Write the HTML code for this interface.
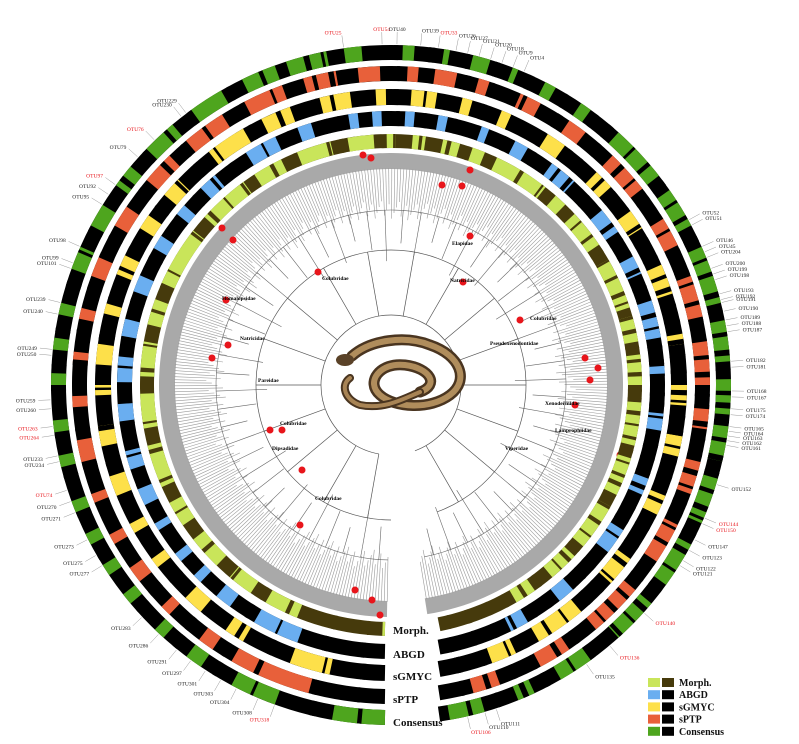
<!DOCTYPE html>
<html><head><meta charset="utf-8"><style>
html,body{margin:0;padding:0;background:#fff;}
svg{display:block;font-family:"Liberation Serif",serif;}
</style></head><body>
<svg id="fig" width="799" height="744" viewBox="0 0 799 744" xmlns="http://www.w3.org/2000/svg">
<g id="tree"></g>
<g id="rings"></g>
<g id="labels"></g>
<g id="snake">
  <path d="M352 356 C370 340 405 335 430 345 C460 355 470 380 450 395 C430 410 395 408 380 395 C365 382 380 362 405 365 C430 368 440 385 420 392" fill="none" stroke="#4a3520" stroke-width="11" stroke-linecap="round"/>
  <path d="M352 356 C370 340 405 335 430 345 C460 355 470 380 450 395 C430 410 395 408 380 395 C365 382 380 362 405 365 C430 368 440 385 420 392" fill="none" stroke="#b08d5c" stroke-width="6" stroke-linecap="round"/>
  <path d="M420 392 C405 398 385 410 360 405 C345 400 340 385 350 378" fill="none" stroke="#4a3520" stroke-width="8" stroke-linecap="round"/>
  <path d="M420 392 C405 398 385 410 360 405 C345 400 340 385 350 378" fill="none" stroke="#a88455" stroke-width="4" stroke-linecap="round"/>
  <ellipse cx="345" cy="360" rx="9" ry="6" fill="#5a4228"/>
</g>
<g id="gaplabels" font-weight="bold" font-size="11" fill="#111">
  <text x="393" y="634">Morph.</text>
  <text x="393" y="658">ABGD</text>
  <text x="393" y="680">sGMYC</text>
  <text x="393" y="703">sPTP</text>
  <text x="393" y="726">Consensus</text>
</g>
<g id="legend" font-weight="bold" font-size="10" fill="#111"></g>
</svg>
<script>
const NS="http://www.w3.org/2000/svg";
const CX=391, CY=385;
const ringNames=["Morph.","ABGD","sGMYC","sPTP","Consensus"];
const ringColors=["#c9e55a","#6aaef0","#fde04a","#e8603a","#4ea51e"];
const ringBase=["#463a0c","#000000","#000000","#000000","#000000"];
const morphLight=[[-179,-178],[-158,-150],[-146,-140],[-136,-128],[-124,-118],[-114,-104],[-100,-92],[-88,-80],[-76,-70],[-66,-52],[-48,-36],[-33,-26],[-22,-14],[-10,-4],[-1,1],[5,8],[12,16],[19,22],[25,38],[41,44],[47,56],[60,72],[74,80],[83,90],[94,104],[107,116],[119,130],[133,140],[145,150]];
const abgdColor=[[-160,-150],[-144,-140],[-136,-134],[-130,-128],[-122,-120],[-116,-112],[-108,-104],[-98,-94],[-90,-84],[-80,-76],[-70,-66],[-60,-57],[-52,-49],[-44,-40],[-32,-25],[-20,-17],[-9,-7],[-4,-2],[3,5],[10,12],[19,21],[27,30],[36,42],[50,56],[62,66],[72,80],[86,88],[96,100],[110,114],[122,128],[138,142],[150,154]];
const sgmycColor=[[-168,-160],[-150,-146],[-140,-136],[-128,-126],[-120,-118],[-112,-108],[-102,-98],[-92,-90],[-86,-82],[-76,-74],[-68,-64],[-58,-55],[-50,-46],[-38,-30],[-26,-20],[-14,-8],[-3,-1],[4,9],[14,16],[22,24],[32,36],[44,48],[54,58],[66,72],[80,82],[90,94],[100,104],[112,116],[126,132],[140,150],[155,160]];
const sptpColor=[[-165,-150],[-146,-143],[-136,-134],[-128,-125],[-120,-118],[-112,-110],[-104,-100],[-94,-92],[-86,-84],[-78,-76],[-70,-66],[-60,-56],[-50,-44],[-40,-32],[-28,-20],[-16,-10],[-6,-2],[3,5],[8,12],[16,18],[24,28],[34,38],[44,52],[58,64],[70,78],[82,90],[94,98],[104,110],[116,124],[130,140],[146,152],[160,165]];
const consColor=[[-179,-170],[-160,-152],[-146,-143],[-138,-136],[-130,-128],[-124,-122],[-118,-116],[-112,-110],[-104,-102],[-98,-96],[-90,-88],[-84,-82],[-78,-76],[-70,-66],[-62,-58],[-54,-50],[-46,-40],[-36,-30],[-26,-20],[-18,-11],[-8,-5],[2,4],[9,10],[14,17],[21,22],[27,29],[34,36],[42,52],[55,62],[66,76],[79,86],[89,95],[97,103],[106,114],[118,126],[130,138],[144,150],[155,158],[164,170]];
// thin dark stripes (degrees) overlaid on every ring
const thinStripes=[-175,-167,-156,-149,-141,-132,-121,-113,-106,-99,-91,-87,-81,-73,-67,-63,-53,-47,-42,-37,-29,-23,-15,-12,0.5,6.5,13,18,24,31,37,40,45.5,49,53,57,60,64,68,70.5,74,77,81,84,87,91,93,96,99,102,105,108,111,113,116,119,123,127,131,134,137,143,147,152,156,161,166];
const ringIntervals=[morphLight,abgdColor,sgmycColor,sptpColor,consColor];
const ringInner=[237,259,280,304,325];
const ringOuter=[251,274,296,319,340];

function pt(r,a){const t=a*Math.PI/180;return [CX+r*Math.sin(t),CY-r*Math.cos(t)];}
function sector(r1,r2,a1,a2){
  const p1=pt(r2,a1),p2=pt(r2,a2),p3=pt(r1,a2),p4=pt(r1,a1);const big=(a2-a1)>180?1:0;
  return `M${p1[0]},${p1[1]} A${r2},${r2} 0 ${big} 1 ${p2[0]},${p2[1]} L${p3[0]},${p3[1]} A${r1},${r1} 0 ${big} 0 ${p4[0]},${p4[1]} Z`;
}
const rings=document.getElementById('rings');
for(let i=0;i<5;i++){
  const r1=ringInner[i],r2=ringOuter[i];
  const rm=(r1+r2)/2;
  const aStart=-180+Math.asin(6/rm)*180/Math.PI;
  const aEnd=180-Math.asin(48/rm)*180/Math.PI;
  const g=document.createElementNS(NS,'g');
  
  
  const base=document.createElementNS(NS,'path');
  base.setAttribute('d',sector(r1,r2,aStart,aEnd));base.setAttribute('fill',ringBase[i]);
  
  
  g.appendChild(base);
  ringIntervals[i].forEach(iv=>{
    const a1=Math.max(iv[0],aStart),a2=Math.min(iv[1],aEnd);if(a2<=a1)return;
    const p=document.createElementNS(NS,'path');
    p.setAttribute('d',sector(r1,r2,a1,a2));p.setAttribute('fill',ringColors[i]);
    
    
    g.appendChild(p);
  });
  thinStripes.forEach((s,k)=>{
    const a=s+(i%2)*0.6;
    if(a<aStart||a>aEnd)return;
    const w=0.5+((k+i)%3)*0.25;
    const p=document.createElementNS(NS,'path');
    p.setAttribute('d',sector(r1,r2,a,a+w));p.setAttribute('fill',ringBase[i]);
    
    
    g.appendChild(p);
  });
  rings.appendChild(g);
}
const tree=document.getElementById('tree');
let td='';
td+=`<path d="${sector(216,232,-179,171)}" fill="#a9a9a9"/>`;
for(let a=-179;a<=171;a+=0.8){const p=pt(165+((a*7)%20+20)%20,a),q=pt(217,a);td+=`<line x1="${p[0].toFixed(1)}" y1="${p[1].toFixed(1)}" x2="${q[0].toFixed(1)}" y2="${q[1].toFixed(1)}" stroke="#9a9a9a" stroke-width="0.6"/>`;}
for(let a=-176;a<168;a+=6){const r=120+((a*13)%30+30)%30;const p=pt(r,a),q=pt(175,a);td+=`<line x1="${p[0]}" y1="${p[1]}" x2="${q[0]}" y2="${q[1]}" stroke="#666" stroke-width="0.6"/>`;const s=pt(175,a-3),e=pt(175,a+3);td+=`<path d="M${s[0]},${s[1]} A175,175 0 0 1 ${e[0]},${e[1]}" fill="none" stroke="#666" stroke-width="0.6"/>`;}
for(let a=-170;a<165;a+=20){const p=pt(70,a),q=pt(135,a);td+=`<line x1="${p[0]}" y1="${p[1]}" x2="${q[0]}" y2="${q[1]}" stroke="#555" stroke-width="0.7"/>`;const s=pt(135,a-10),e=pt(135,a+10);td+=`<path d="M${s[0]},${s[1]} A135,135 0 0 1 ${e[0]},${e[1]}" fill="none" stroke="#555" stroke-width="0.7"/>`;}
const s0=pt(70,-170),e0=pt(70,160);td+=`<path d="M${s0[0]},${s0[1]} A70,70 0 1 1 ${e0[0]},${e0[1]}" fill="none" stroke="#555" stroke-width="0.7"/>`;
tree.innerHTML=td;
const dots=[[363,155],[371,158],[470,170],[442,185],[462,186],[470,236],[463,282],[318,272],[222,228],[233,240],[226,300],[228,345],[212,358],[270,430],[302,470],[282,430],[300,525],[355,590],[372,600],[380,615],[585,358],[598,368],[590,380],[575,405],[620,455],[520,320]];
dots.forEach(d=>{const c=document.createElementNS(NS,'circle');c.setAttribute('cx',d[0]);c.setAttribute('cy',d[1]);c.setAttribute('r',3.5);c.setAttribute('fill','#e8151b');


tree.appendChild(c);});
const fam=[["Colubridae",322,280],["Natricidae",450,282],["Elapidae",452,245],["Natricidae",240,340],["Pareidae",258,382],["Colubridae",280,425],["Dipsadidae",272,450],["Colubridae",315,500],["Xenodermidae",545,405],["Lamprophiidae",555,432],["Viperidae",505,450],["Colubridae",530,320],["Pseudoxenodontidae",490,345],["Homalopsidae",222,300]];
fam.forEach(f=>{const t=document.createElementNS(NS,'text');t.setAttribute('x',f[1]);t.setAttribute('y',f[2]);t.setAttribute('font-size','5.5');t.setAttribute('font-weight','bold');t.textContent=f[0];


tree.appendChild(t);});
const otuNames=["OTU25","OTU54","OTU40","OTU39","OTU33","OTU26","OTU27","OTU21","OTU20","OTU18","OTU9","OTU4","OTU52","OTU51","OTU46","OTU45","OTU204","OTU200","OTU199","OTU198","OTU193","OTU192","OTU191","OTU190","OTU189","OTU188","OTU187","OTU182","OTU181","OTU168","OTU167","OTU175","OTU174","OTU165","OTU164","OTU163","OTU162","OTU161","OTU152","OTU144","OTU150","OTU147","OTU123","OTU122","OTU121","OTU140","OTU136","OTU135","OTU111","OTU110","OTU106","OTU318","OTU308","OTU304","OTU303","OTU301","OTU297","OTU291","OTU286","OTU283","OTU277","OTU275","OTU273","OTU271","OTU270","OTU74","OTU234","OTU233","OTU264","OTU263","OTU260","OTU259","OTU250","OTU249","OTU240","OTU239","OTU101","OTU99","OTU98","OTU95","OTU92","OTU97","OTU79","OTU76","OTU230","OTU229"];
const otuAngles=[-8,-1.5,1,5,8,11,13,15,17,19,21,23,61,62,66,67,68,70,71,72,74.5,75.5,76,77.5,79,80,81,86,87,91,92,94,95,97,97.8,98.6,99.4,100.2,107,113,114,117,119,121,122,132,140,145,162,164,167,-160,-157,-153,-150,-147,-144,-141,-137,-133,-122,-120,-117,-112,-110,-108,-103,-102,-98.5,-97,-94,-92.5,-85,-84,-78,-76,-70,-69,-66,-58,-56,-54,-48,-44,-38,-37];
const otuRed=["OTU25","OTU54","OTU33","OTU144","OTU150","OTU140","OTU136","OTU106","OTU318","OTU74","OTU264","OTU263","OTU97","OTU76"];
const labels=document.getElementById('labels');
otuNames.forEach((n,i)=>{
  const a=otuAngles[i];const p=pt(341,a),q=pt(353,a),t=pt(356,a);
  const l=document.createElementNS(NS,'line');l.setAttribute('x1',p[0]);l.setAttribute('y1',p[1]);l.setAttribute('x2',q[0]);l.setAttribute('y2',q[1]);l.setAttribute('stroke','#999');l.setAttribute('stroke-width','0.5');
  
  
  labels.appendChild(l);
  const tx=document.createElementNS(NS,'text');tx.setAttribute('x',t[0]);tx.setAttribute('y',t[1]+2);tx.setAttribute('font-size','5.5');
  tx.setAttribute('text-anchor',Math.sin(a*Math.PI/180)>=0.05?'start':(Math.sin(a*Math.PI/180)<=-0.05?'end':'middle'));
  tx.setAttribute('fill',otuRed.includes(n)?'#e8151b':'#222');tx.textContent=n;
  
  
  labels.appendChild(tx);
});
const leg=document.getElementById('legend');
const legLight=["#c9e55a","#6aaef0","#fde04a","#e8603a","#4ea51e"];
const legDark=["#463a0c","#000","#000","#000","#000"];
ringNames.forEach((n,i)=>{
  const y=678+i*12.2;
  const a=document.createElementNS(NS,'rect');a.setAttribute('x',648);a.setAttribute('y',y);a.setAttribute('width',12);a.setAttribute('height',9);a.setAttribute('fill',legLight[i]);
  
  
  const b=document.createElementNS(NS,'rect');b.setAttribute('x',662);b.setAttribute('y',y);b.setAttribute('width',12);b.setAttribute('height',9);b.setAttribute('fill',legDark[i]);
  
  
  const t=document.createElementNS(NS,'text');t.setAttribute('x',679);t.setAttribute('y',y+8);t.textContent=n;
  
  
  leg.appendChild(a);leg.appendChild(b);leg.appendChild(t);
});
</script>
</body></html>
